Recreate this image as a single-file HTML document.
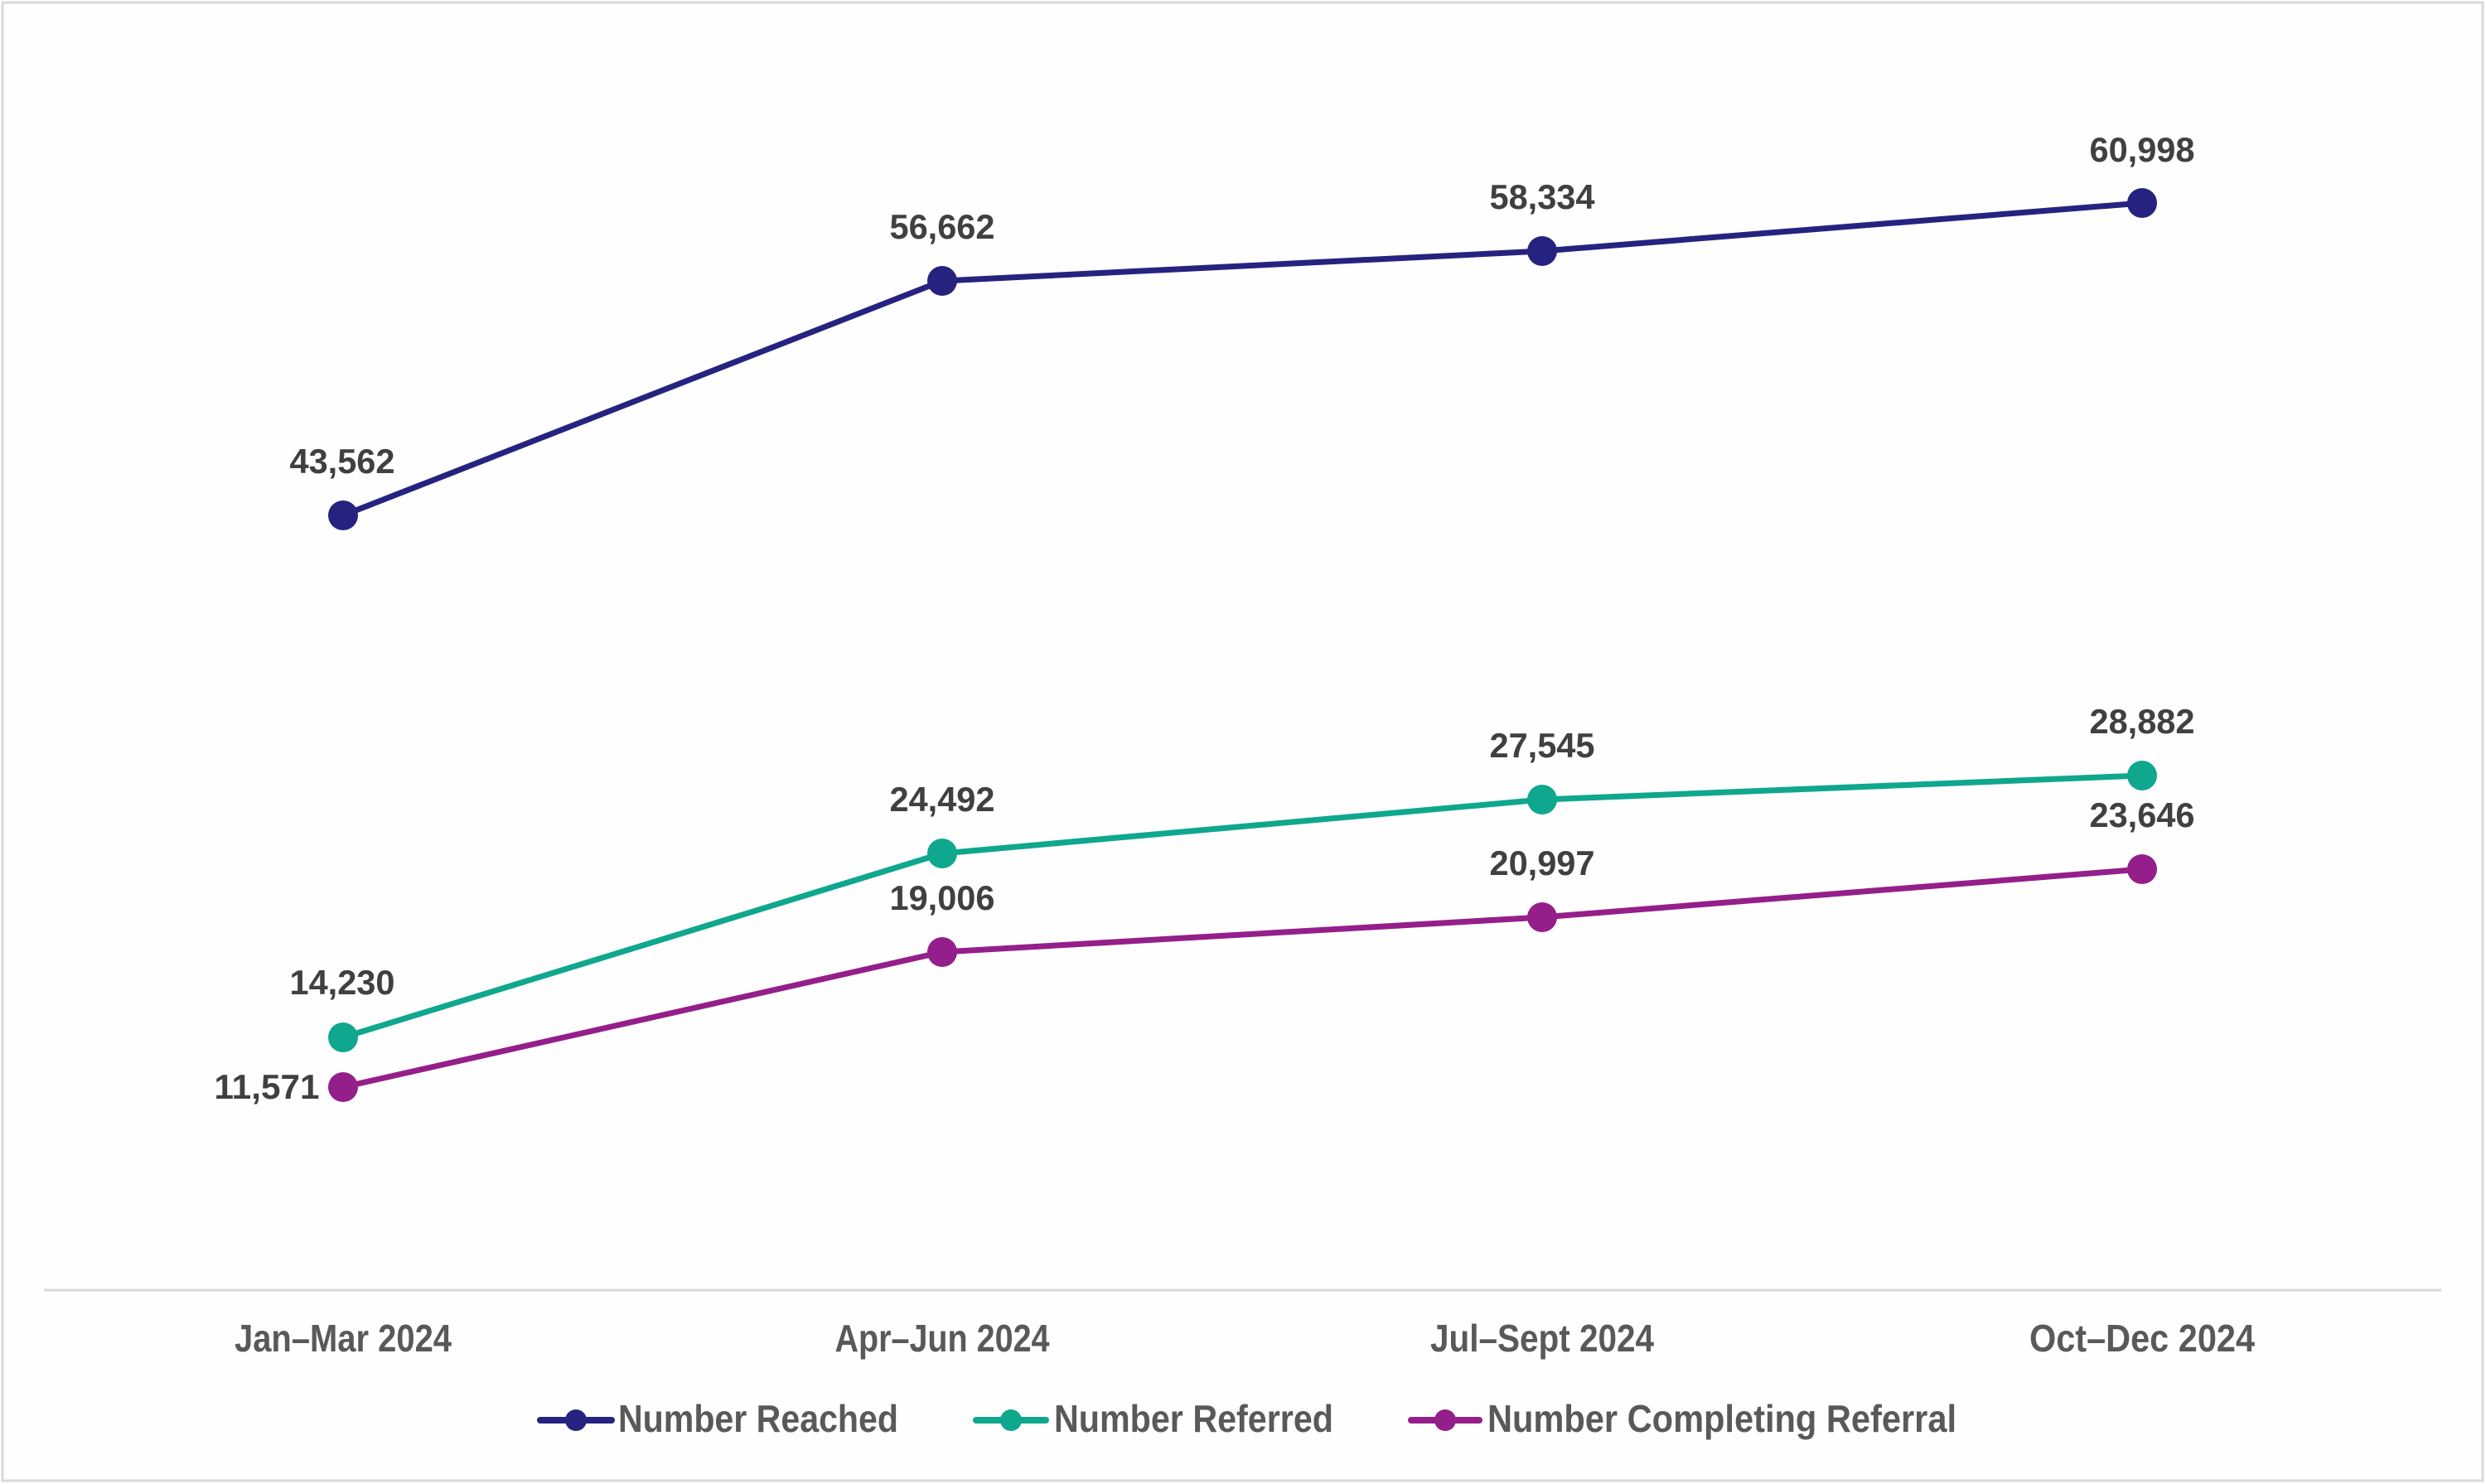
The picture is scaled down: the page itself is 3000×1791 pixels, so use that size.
<!DOCTYPE html>
<html><head><meta charset="utf-8"><style>
html,body{margin:0;padding:0;background:#fff}
svg{display:block}
</style></head><body>
<svg width="3000" height="1791" viewBox="0 0 3000 1791" xmlns="http://www.w3.org/2000/svg">
<rect x="3" y="3" width="2993" height="1784" fill="#fefefe" stroke="#d9d9d9" stroke-width="3"/>
<line x1="53" y1="1557" x2="2946" y2="1557" stroke="#d9d9d9" stroke-width="3"/>
<g font-family="Liberation Sans, Arial, sans-serif" font-weight="bold">
<polyline points="414,622 1137,339 1861,303 2585,245" fill="none" stroke="#262380" stroke-width="7" stroke-linejoin="round"/>
<g fill="#262380"><circle cx="414" cy="622" r="18"/><circle cx="1137" cy="339" r="18"/><circle cx="1861" cy="303" r="18"/><circle cx="2585" cy="245" r="18"/></g>
<polyline points="414,1252 1137,1030 1861,965 2585,936" fill="none" stroke="#0fa78e" stroke-width="7" stroke-linejoin="round"/>
<g fill="#0fa78e"><circle cx="414" cy="1252" r="18"/><circle cx="1137" cy="1030" r="18"/><circle cx="1861" cy="965" r="18"/><circle cx="2585" cy="936" r="18"/></g>
<polyline points="414,1312 1137,1149 1861,1107 2585,1049" fill="none" stroke="#951f8a" stroke-width="7" stroke-linejoin="round"/>
<g fill="#951f8a"><circle cx="414" cy="1312" r="18"/><circle cx="1137" cy="1149" r="18"/><circle cx="1861" cy="1107" r="18"/><circle cx="2585" cy="1049" r="18"/></g>

<g fill="#404040" font-size="42" text-anchor="middle">
<text x="413" y="571" textLength="127" lengthAdjust="spacingAndGlyphs">43,562</text>
<text x="1137" y="288" textLength="127" lengthAdjust="spacingAndGlyphs">56,662</text>
<text x="1861" y="252" textLength="127" lengthAdjust="spacingAndGlyphs">58,334</text>
<text x="2585" y="195" textLength="127" lengthAdjust="spacingAndGlyphs">60,998</text>
<text x="413" y="1200" textLength="127" lengthAdjust="spacingAndGlyphs">14,230</text>
<text x="1137" y="979" textLength="127" lengthAdjust="spacingAndGlyphs">24,492</text>
<text x="1861" y="914" textLength="127" lengthAdjust="spacingAndGlyphs">27,545</text>
<text x="2585" y="885" textLength="127" lengthAdjust="spacingAndGlyphs">28,882</text>
<text x="322" y="1326" textLength="127" lengthAdjust="spacingAndGlyphs">11,571</text>
<text x="1137" y="1098" textLength="127" lengthAdjust="spacingAndGlyphs">19,006</text>
<text x="1861" y="1056" textLength="127" lengthAdjust="spacingAndGlyphs">20,997</text>
<text x="2585" y="998" textLength="127" lengthAdjust="spacingAndGlyphs">23,646</text>
</g>

<g fill="#595959" font-size="46" text-anchor="middle">
<text x="414" y="1631" textLength="262" lengthAdjust="spacingAndGlyphs">Jan–Mar 2024</text>
<text x="1137" y="1631" textLength="259" lengthAdjust="spacingAndGlyphs">Apr–Jun 2024</text>
<text x="1861" y="1631" textLength="270" lengthAdjust="spacingAndGlyphs">Jul–Sept 2024</text>
<text x="2585" y="1631" textLength="272" lengthAdjust="spacingAndGlyphs">Oct–Dec 2024</text>
</g>

<g stroke-width="8" stroke-linecap="round">
<line x1="652" y1="1714" x2="738" y2="1714" stroke="#262380"/>
<line x1="1178" y1="1714" x2="1262" y2="1714" stroke="#0fa78e"/>
<line x1="1703" y1="1714" x2="1785" y2="1714" stroke="#951f8a"/>
</g>
<circle cx="695" cy="1714" r="13" fill="#262380"/>
<circle cx="1220" cy="1714" r="13" fill="#0fa78e"/>
<circle cx="1744" cy="1714" r="13" fill="#951f8a"/>
<g fill="#595959" font-size="46">
<text x="746" y="1728" textLength="338" lengthAdjust="spacingAndGlyphs">Number Reached</text>
<text x="1272" y="1728" textLength="337" lengthAdjust="spacingAndGlyphs">Number Referred</text>
<text x="1795" y="1728" textLength="566" lengthAdjust="spacingAndGlyphs">Number Completing Referral</text>
</g>
</g>
</svg>
</body></html>
